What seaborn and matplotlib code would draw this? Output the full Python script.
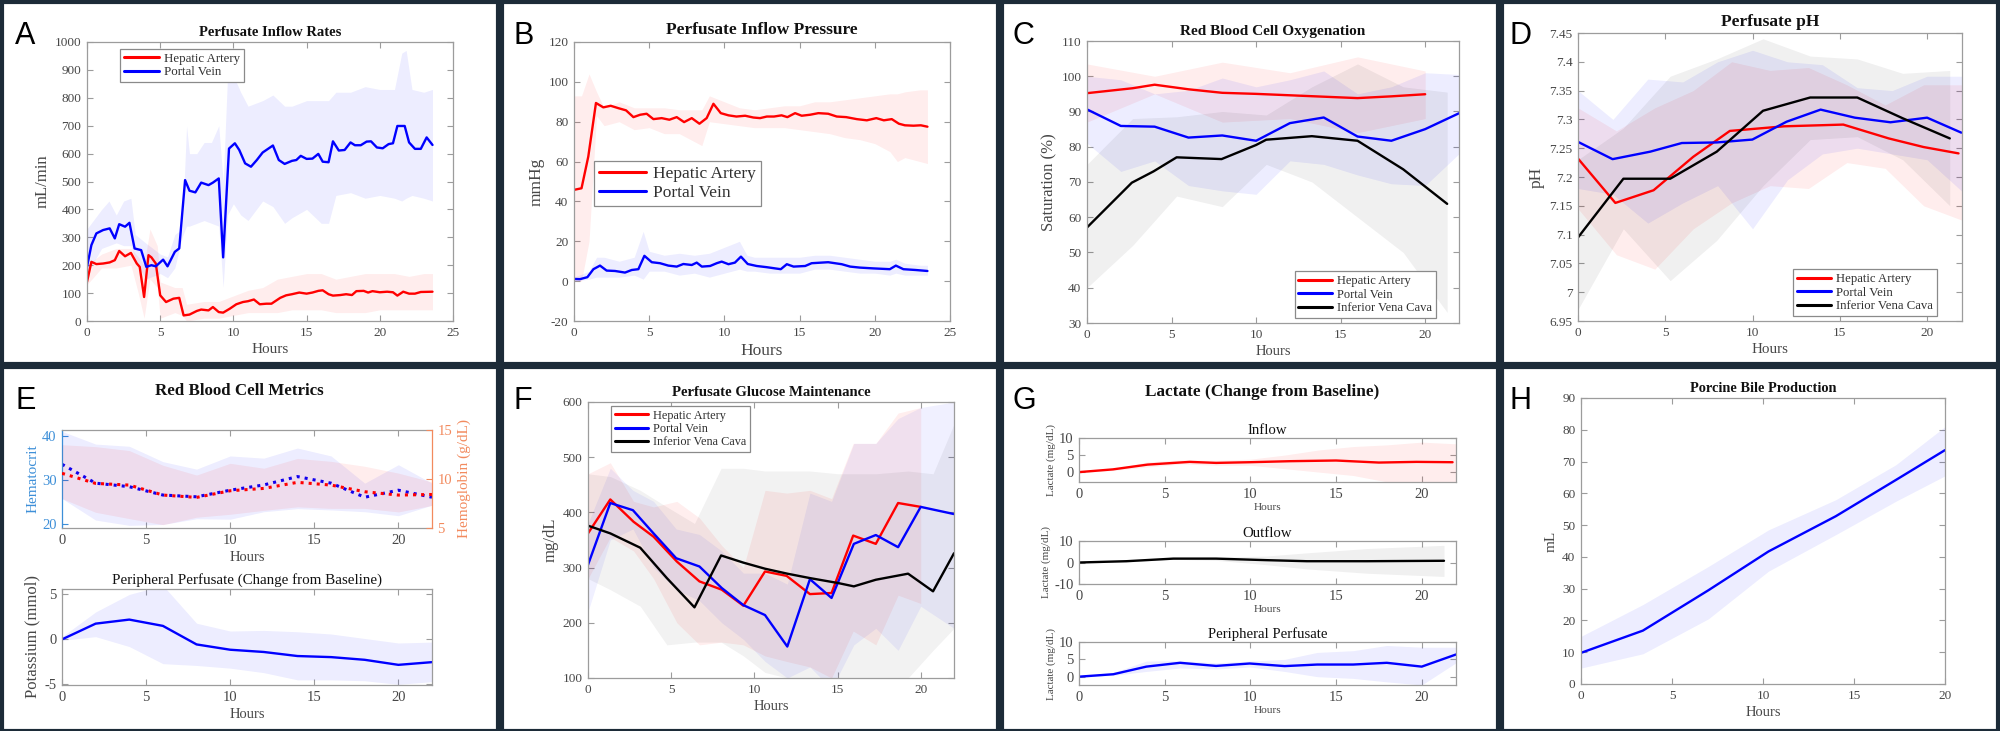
import numpy as np
import pandas as pd
import matplotlib
matplotlib.use("Agg")
import matplotlib.pyplot as plt
import seaborn as sns
from matplotlib.patches import Rectangle
from matplotlib.ticker import FuncFormatter

# ======================= DATA =======================
# ---- Panel A : Perfusate Inflow Rates (mL/min)
a_pv_t = [0,0.3,0.64,1.1,1.55,1.9,2.2,2.6,2.9,3.25,3.7,4.05,4.4,4.7,5.2,5.5,6.0,6.3,6.7,7.0,7.4,7.8,8.3,8.6,9.0,9.3,9.7,10.1,10.4,10.8,11.2,11.6,12.0,12.7,13.1,13.5,14.0,14.3,14.6,15.0,15.4,15.8,16.1,16.5,16.8,17.2,17.6,18.0,18.3,18.7,19.1,19.4,19.8,20.2,20.6,20.9,21.2,21.7,22.0,22.4,22.8,23.2,23.6]
a_pv = [194,272,314,326,332,296,347,338,352,260,254,194,200,196,220,196,248,260,505,467,461,496,487,496,511,228,618,637,613,565,553,577,604,629,577,563,574,577,592,581,582,599,571,569,644,611,613,640,630,630,643,644,622,619,634,637,699,699,640,617,617,658,631]
a_pv_bt = [0,1,1.5,2,2.5,3,3.3,4,5,5.5,6,6.5,6.8,7,7.5,8,8.5,9,9.3,9.6,10,10.5,11,12,12.7,13.5,14,15,16,16.5,17,18,19,20,21,21.5,21.8,22.2,23,23.6]
a_pv_hi = [330,400,430,380,430,440,310,280,240,230,310,330,700,600,600,640,640,700,500,880,880,820,770,790,810,770,770,790,790,790,820,820,840,830,830,960,970,830,820,830]
a_pv_lo = [170,260,270,280,270,270,220,150,170,155,190,300,340,340,350,360,350,340,120,380,420,380,360,430,410,350,370,400,350,350,450,460,440,450,440,430,440,450,440,430]
a_ha_t = [0,0.3,0.64,1.1,1.55,1.9,2.2,2.6,3.0,3.4,3.6,3.9,4.2,4.4,4.7,5.0,5.4,5.9,6.3,6.6,7.0,7.5,7.8,8.3,8.6,9.0,9.3,9.75,10.2,10.65,11.0,11.4,11.8,12.25,12.6,13.2,13.6,14.0,14.5,15.0,15.4,15.8,16.1,16.5,16.8,17.3,17.7,18.1,18.4,18.9,19.2,19.5,20.0,20.5,20.9,21.2,21.6,22.0,22.4,22.8,23.6]
a_ha = [140,212,204,206,210,218,251,232,244,206,194,86,236,228,206,92,68,80,83,20,23,36,41,38,50,32,30,44,60,68,71,77,60,62,62,83,92,96,102,98,102,108,110,96,91,93,96,93,107,108,102,107,103,105,103,91,105,98,98,104,105]
a_ha_bt = [0,1,2,3,3.5,3.9,4.3,4.8,5,6,6.5,6.8,8,9,10,11,12,13,14,15,16,17,18,19,20,21,22,23,23.6]
a_ha_hi = [200,240,260,260,230,200,330,270,140,120,120,60,70,70,90,110,120,150,160,170,170,150,160,170,170,170,160,170,170]
a_ha_lo = [130,190,190,200,100,10,150,120,10,30,20,0,10,10,20,30,30,30,40,40,40,30,30,30,40,40,40,40,40]

# ---- Panel B : Perfusate Inflow Pressure (mmHg)
b_ha_t = [0,0.5,0.95,1.46,1.95,2.44,2.95,3.46,3.95,4.4,4.83,5.28,5.83,6.34,6.83,7.32,7.83,8.34,8.82,9.27,9.76,10.27,10.8,11.38,11.93,12.37,12.82,13.3,13.8,14.19,14.7,15.14,15.7,16.25,16.9,17.47,18.1,18.8,19.47,20.1,20.6,21.13,21.6,22.0,22.57,23.06,23.5]
b_ha = [45.8,46.6,62.5,89.4,87.2,88,86.8,85.7,82.3,83.5,84,81.3,81.8,81,82.3,79.8,81.8,79,81.8,89,84.3,83.2,82.6,83,82.1,81.8,82.6,82.6,83.2,82.3,84.3,83,83.5,84.3,84,82.6,82.3,81.3,80.7,81.8,80.7,81.3,79,78.2,78,78.2,77.5]
b_ha_bt = [0,0.5,1,1.5,2,3,4,5,6,7,8,8.5,9,10,11,12,13,14,15,16,17,18,19,20,21,21.5,22,23,23.5]
b_ha_hi = [93,93,104,95,87,90,87,87,87,86,86,86,93,90,87,86,87,88,88,90,90,91,92,93,94,94,95,96,96]
b_ha_lo = [0,0,20,83,78,80,76,77,74,74,70,68,80,79,78,77,77,77,76,75,74,72,71,69,65,60,62,60,59]
b_pv_t = [0,0.4,0.89,1.29,1.73,2.17,2.73,3.39,3.84,4.28,4.68,5.17,5.72,6.27,6.83,7.27,7.83,8.16,8.5,9.05,9.49,9.82,10.27,10.7,11.1,11.55,12.15,12.82,13.37,13.75,14.15,14.6,15.37,15.8,16.9,17.8,18.36,19.0,19.9,21.0,21.4,21.9,22.7,23.5]
b_pv = [1.1,1,2,6,7.8,5.3,5.1,4.3,5.6,6,12.7,9.5,9,7.8,7.3,8.6,8.1,9.3,7.3,7.6,9,9.8,8.5,9.3,12.3,8.6,7.6,7,6.4,6,8.5,7.3,7.6,9,9.5,8.5,7.3,6.8,6.4,6,7.8,6,5.6,5.1]
b_pv_bt = [0,1,1.5,2,3,4,4.6,5,6,7,8,9,10,11,11.5,12,13,14,15,16,17,18,19,20,21,21.4,22,23,23.5]
b_pv_hi = [2,5,12,12,10,12,25,15,13,14,13,14,17,20,13,12,12,12,12,13,13,12,11,10,10,11,9,8,8]
b_pv_lo = [0,1,2,2,2,3,1,5,5,3,4,2,4,6,5,5,4,4,4,6,6,5,4,4,3,4,3,3,3]

# ---- Panel C : Red Blood Cell Oxygenation (%)
c_ha_t = [0,2.7,4,6,8,10,12,14,16,18,20]
c_ha = [95.2,96.6,97.6,96.3,95.3,95,94.6,94.2,93.8,94.3,94.9]
c_ha_bt = [0,4,8,12,16,20]
c_ha_hi = [103.5,100,104,101,105.5,101.5]
c_ha_lo = [87,95,87,88,84,88]
c_pv_t = [0,2,4,6,8,10,12,14,16,18,20,22]
c_pv = [90.6,85.9,85.7,82.6,83.2,81.7,86.7,88.3,82.9,81.7,85,89.5]
c_pv_hi = [100,99,95,96,99.5,97,99,101.5,95,97,101,100.5]
c_pv_lo = [81,73,76,69,67.5,66.5,76,75,72,69.5,69,78]
c_ivc_t = [0,2.65,3.93,5.3,7.96,10,10.6,13.3,16,18.7,21.3]
c_ivc = [57.1,69.8,73,77,76.5,80.5,82,83,81.7,73.6,63.8]
c_ivc_bt = [0,2.7,5.3,8,10.6,13.3,16,18.7,21.3]
c_ivc_hi = [75,88,88.5,90,89,97,103.5,97,95.5]
c_ivc_lo = [40,52,66,63,75,70,60,50,33]

# ---- Panel D : Perfusate pH
d_ha_t = [0,2.14,4.33,6.6,8.7,11.8,15.2,17.8,19.8,21.8]
d_ha = [7.232,7.155,7.177,7.235,7.28,7.288,7.291,7.267,7.252,7.241]
d_ha_bt = [0,2.2,4.4,6.6,8.8,11,13.2,15.4,17.6,19.8,22]
d_ha_hi = [7.32,7.28,7.32,7.35,7.40,7.385,7.39,7.36,7.325,7.36,7.36]
d_ha_lo = [7.145,7.065,7.04,7.11,7.155,7.185,7.18,7.225,7.215,7.15,7.125]
d_pv_t = [0,1.98,4.14,5.95,7.95,9.99,11.95,13.9,15.86,17.9,20,21.96]
d_pv = [7.261,7.231,7.244,7.259,7.26,7.265,7.296,7.317,7.303,7.295,7.303,7.277]
d_pv_bt = [0,2,4,6,8,10,12,14,16,18,20,22]
d_pv_hi = [7.35,7.30,7.37,7.365,7.40,7.42,7.40,7.395,7.355,7.35,7.375,7.375]
d_pv_lo = [7.18,7.17,7.12,7.155,7.185,7.11,7.195,7.24,7.25,7.24,7.23,7.175]
d_ivc_t = [0,2.6,5.28,7.95,10.6,13.3,16,18.6,21.3]
d_ivc = [7.095,7.197,7.197,7.244,7.315,7.338,7.338,7.302,7.267]
d_ivc_hi = [7.23,7.285,7.375,7.405,7.44,7.41,7.405,7.38,7.385]
d_ivc_lo = [6.97,7.11,7.02,7.09,7.185,7.265,7.27,7.23,7.15]

# ---- Panel E : Red Blood Cell Metrics
e_t = [0,2,4,6,8,10,12,14,16,18,20,22]
e_hct = [33.5,29.2,28.4,26.5,26.1,27.6,28.8,30.7,29.2,26,27.6,26]
e_hct_hi = [41,38.1,37.6,34.1,32.4,35.4,34.9,37.2,35.4,29.2,33.4,29.2]
e_hct_lo = [25.7,20.8,19.6,19.8,21.1,21,22.7,23.4,23.1,22.7,21.8,24.2]
e_hb = [10.58,9.55,9.38,8.36,8.12,8.8,9.04,9.66,9.38,8.7,8.36,8.42]
e_hb_hi = [13.5,13.3,12.9,11.4,10.4,11.6,11.1,12.1,11.8,11.3,10.6,9.7]
e_hb_lo = [8.0,6.6,5.96,5.34,6.1,6.4,6.8,7.16,7,7,6.64,7.3]
e_k = [0,1.75,2.2,1.5,-0.56,-1.15,-1.4,-1.85,-1.97,-2.27,-2.83,-2.53]
e_k_hi = [0.3,3.05,5,6,1.8,0.93,1,0.85,0.6,0.1,-0.4,-0.3]
e_k_lo = [-0.1,0.3,-0.8,-2.7,-2.9,-3.2,-3.7,-4.5,-4.5,-4.6,-5,-4.7]

# ---- Panel F : Perfusate Glucose Maintenance (mg/dL)
f_ha_t = [0,1.34,2.74,3.94,5.34,6.7,8.04,9.34,10.64,11.94,13.34,14.64,15.94,17.3,18.64,20]
f_ha = [362,423.5,383,356,311,275,260,231,293,285,252,254,358,343,417,410]
f_ha_hi = [470,490,420,410,420,390,340,300,440,435,440,425,525,525,580,590]
f_ha_lo = [280,355,330,280,200,160,165,160,140,130,120,100,185,160,250,235]
f_pv_t = [0,1.34,2.7,3.94,5.3,6.7,8.04,9.34,10.64,11.98,13.34,14.64,15.98,17.3,18.64,20,22]
f_pv = [305,417,404,362,317,302,263,232,214,157,279,245,343,359,337,410,397]
f_pv_hi = [380,480,440,420,370,360,330,290,290,270,435,420,525,525,570,590,600]
f_pv_lo = [220,350,370,300,260,240,200,170,130,100,120,80,160,190,150,230,190]
f_ivc_t = [0,1.34,3.14,4.74,6.4,8,9.34,10.64,11.98,13.34,15.04,15.98,17.3,19.24,20.74,22]
f_ivc = [376,362,336,281,228,322,309,298,289,281,272,266,278,289,257,326]
f_ivc_hi = [470,465,440,410,380,480,480,475,475,475,470,470,470,475,470,560]
f_ivc_lo = [280,260,230,160,165,165,140,110,100,90,80,70,80,100,150,190]

# ---- Panel G : Lactate (Change from Baseline) (mg/dL)
g_in_t = [0,1.98,4.0,6.46,8,9.96,12.3,15,17.5,19.7,21.8]
g_in = [0,0.8,2.2,3.0,2.7,2.9,3.2,3.4,2.8,3.0,2.9]
g_in_bt = [0,2,4,6,8,10,12,14,16,18,20,22]
g_in_hi = [0.2,1,3,3.6,3.5,3.8,5,6.5,7.5,8,8.8,8.3]
g_in_lo = [-0.2,0.5,1.5,2.4,2,2,1,0,-1,-2.9,-2.9,-2.9]
g_out_t = [0,2.76,5.5,8,10.9,13.3,16.8,21.3]
g_out = [0,0.6,1.8,1.8,1.1,0.6,0.6,0.8]
g_out_hi = [0.2,1,2.5,2.5,3,4.5,6.5,8]
g_out_lo = [-0.2,0.2,1.5,1,-1,-3,-5,-6.5]
g_pp_t = [0,2,3.93,5.9,8,9.96,12,13.9,16,17.96,20,22]
g_pp = [0,0.7,2.9,4,3.1,3.8,3.05,3.5,3.5,4,2.9,6.4]
g_pp_hi = [0.2,1.2,4.5,4.6,4,4.5,5,7,7.5,9,8.5,8.5]
g_pp_lo = [-0.2,0.4,1.5,2.5,2.2,2.8,1.5,0,-0.5,-1.5,-2.4,4]

# ---- Panel H : Porcine Bile Production (mL)
h_t = [0,3.4,7,10.3,14,17.3,20]
h_bile = [9.8,16.8,29.5,41.7,52.8,64.2,73.6]
h_bile_hi = [15,25,37,48.5,58,69,81]
h_bile_lo = [5,9.5,20.5,35.5,47,57.5,65.5]

series_labels = ["Hepatic Artery", "Portal Vein", "Inferior Vena Cava"]

# ======================= STYLE =======================
sns.set_style("ticks")
plt.rcParams['font.family'] = ['Liberation Serif', 'DejaVu Serif']
plt.rcParams['axes.unicode_minus'] = False

RED, BLUE, BLACK = '#ff0000', '#0000ff', '#000000'
SP = '#9c9c9c'
TX = '#474747'
FRAME = '#1c2b38'
ALPHA = 0.07
FMT = FuncFormatter(lambda v, p: f"{round(v, 4):g}")

W, H = 2000, 731
fig = plt.figure(figsize=(20, 7.31), dpi=100)
fig.patch.set_facecolor('white')


def add_ax(l, t, r, b):
    return fig.add_axes([l / W, 1 - b / H, (r - l) / W, (b - t) / H])


def style(ax, xlim, ylim, xt, yt, fs=9.5):
    ax.set_xlim(*xlim)
    ax.set_ylim(*ylim)
    ax.set_xticks(xt)
    ax.set_yticks(yt)
    ax.xaxis.set_major_formatter(FMT)
    ax.yaxis.set_major_formatter(FMT)
    ax.tick_params(which='both', direction='in', top=True, right=True, length=4,
                   width=0.8, color=SP, labelcolor=TX, labelsize=fs, pad=4)
    for s in ax.spines.values():
        s.set_visible(True)
        s.set_color(SP)
        s.set_linewidth(0.9)


def band(ax, t, lo, hi, color, alpha=ALPHA):
    ax.fill_between(t, lo, hi, color=color, alpha=alpha, lw=0)


def line(ax, t, y, color, label=None, lw=1.7, ls='-'):
    sns.lineplot(x=t, y=y, color=color, label=label, ax=ax, lw=lw, ls=ls,
                 estimator=None, sort=False, legend=bool(label))


def leg(ax, loc, anchor, fs):
    lg = ax.legend(loc=loc, bbox_to_anchor=anchor, borderaxespad=0, fontsize=fs,
                   frameon=True, fancybox=False, edgecolor='#8a8a8a', framealpha=1,
                   borderpad=0.3, labelspacing=0.12, handlelength=2.7, handletextpad=0.4)
    lg.get_frame().set_linewidth(0.9)
    for t in lg.get_texts():
        t.set_color('#303030')
    for h in lg.get_lines():
        h.set_linewidth(2.2)


def labels(ax, xl, yl, title, xfs=10.5, yfs=12, tfs=10.5, tpad=4, bold=True):
    ax.set_xlabel(xl, fontsize=xfs, color=TX, labelpad=3)
    ax.set_ylabel(yl, fontsize=yfs, color=TX, labelpad=3)
    if title:
        ax.set_title(title, fontsize=tfs, fontweight='bold' if bold else 'normal',
                     color='#111111', pad=tpad)


# ======================= PANEL A =======================
ax = add_ax(87, 42, 453, 321)
band(ax, a_pv_bt, a_pv_lo, a_pv_hi, BLUE)
band(ax, a_ha_bt, a_ha_lo, a_ha_hi, RED)
line(ax, a_ha_t, a_ha, RED, series_labels[0])
line(ax, a_pv_t, a_pv, BLUE, series_labels[1])
style(ax, (0, 25), (0, 1000), range(0, 26, 5), range(0, 1001, 100))
labels(ax, "Hours", "mL/min", "Perfusate Inflow Rates", xfs=11, yfs=12, tfs=10.5)
leg(ax, 'upper left', (0.09, 0.975), 9.3)

# ======================= PANEL B =======================
ax = add_ax(574, 42, 950, 321)
band(ax, b_ha_bt, b_ha_lo, b_ha_hi, RED)
band(ax, b_pv_bt, b_pv_lo, b_pv_hi, BLUE)
line(ax, b_ha_t, b_ha, RED, series_labels[0])
line(ax, b_pv_t, b_pv, BLUE, series_labels[1])
style(ax, (0, 25), (-20, 120), range(0, 26, 5), range(-20, 121, 20))
labels(ax, "Hours", "mmHg", "Perfusate Inflow Pressure", xfs=12.5, yfs=12.5, tfs=12.5, tpad=6)
leg(ax, 'upper left', (0.053, 0.573), 12.5)

# ======================= PANEL C =======================
ax = add_ax(1087, 41, 1459, 323)
band(ax, c_ha_bt, c_ha_lo, c_ha_hi, RED)
band(ax, c_pv_t, c_pv_lo, c_pv_hi, BLUE)
band(ax, c_ivc_bt, c_ivc_lo, c_ivc_hi, BLACK, 0.06)
line(ax, c_ha_t, c_ha, RED, series_labels[0])
line(ax, c_pv_t, c_pv, BLUE, series_labels[1])
line(ax, c_ivc_t, c_ivc, BLACK, series_labels[2])
style(ax, (0, 22), (30, 110), range(0, 21, 5), range(30, 111, 10))
labels(ax, "Hours", "Saturation (%)", "Red Blood Cell Oxygenation", xfs=10.5, yfs=12, tfs=11)
leg(ax, 'lower right', (0.938, 0.018), 9)

# ======================= PANEL D =======================
ax = add_ax(1578, 33, 1962, 321)
band(ax, d_ha_bt, d_ha_lo, d_ha_hi, RED)
band(ax, d_pv_bt, d_pv_lo, d_pv_hi, BLUE)
band(ax, d_ivc_t, d_ivc_lo, d_ivc_hi, BLACK, 0.06)
line(ax, d_ha_t, d_ha, RED, series_labels[0])
line(ax, d_pv_t, d_pv, BLUE, series_labels[1])
line(ax, d_ivc_t, d_ivc, BLACK, series_labels[2])
style(ax, (0, 22), (6.95, 7.45), range(0, 21, 5), np.arange(6.95, 7.451, 0.05))
labels(ax, "Hours", "pH", "Perfusate pH", xfs=10.8, yfs=12.5, tfs=12.5, tpad=5)
leg(ax, 'lower right', (0.935, 0.017), 9.2)

# ======================= PANEL E =======================
HCT_C, HB_C = '#3d8fd8', '#f28a5e'
ax = add_ax(62, 430, 432, 528)
band(ax, e_t, e_hct_lo, e_hct_hi, BLUE)
line(ax, e_t, e_hct, BLUE, lw=2.2, ls=':')
style(ax, (0, 22), (19, 41.3), range(0, 21, 5), [20, 30, 40], fs=10.5)
ax.tick_params(axis='y', right=False, labelcolor=HCT_C, color=HCT_C)
ax.spines['left'].set_color(HCT_C)
ax.spines['right'].set_visible(False)
ax.set_xlabel("Hours", fontsize=10.5, color=TX, labelpad=3)
ax.set_ylabel("Hematocrit", fontsize=11, color=HCT_C, labelpad=2)
ax2 = ax.twinx()
band(ax2, e_t, e_hb_lo, e_hb_hi, RED)
line(ax2, e_t, e_hb, RED, lw=2.2, ls=':')
ax2.set_ylim(5, 15)
ax2.set_yticks([5, 10, 15])
ax2.yaxis.set_major_formatter(FMT)
ax2.tick_params(axis='y', direction='in', length=4, width=0.8, color=HB_C,
                labelcolor=HB_C, labelsize=10.5, pad=4)
for k in ['left', 'top', 'bottom']:
    ax2.spines[k].set_visible(False)
ax2.spines['right'].set_color(HB_C)
ax2.spines['right'].set_linewidth(0.9)
ax2.set_ylabel("Hemoglobin (g/dL)", fontsize=11, color=HB_C, labelpad=4)
fig.text(239 / W, 1 - 391 / H, "Red Blood Cell Metrics", ha='center', va='center',
         fontsize=12.2, fontweight='bold', color='#111111')

ax = add_ax(62, 589, 432, 685)
band(ax, e_t, e_k_lo, e_k_hi, BLUE)
line(ax, e_t, e_k, BLUE, lw=1.7)
style(ax, (0, 22), (-5.07, 5.6), range(0, 21, 5), [-5, 0, 5], fs=10.5)
labels(ax, "Hours", "Potassium (mmol)", "Peripheral Perfusate (Change from Baseline)",
       xfs=10.5, yfs=12, tfs=10.8, tpad=4, bold=False)

# ======================= PANEL F =======================
ax = add_ax(588, 402, 954, 678)
band(ax, f_ha_t, f_ha_lo, f_ha_hi, RED, 0.065)
band(ax, f_pv_t, f_pv_lo, f_pv_hi, BLUE, 0.06)
band(ax, f_ivc_t, f_ivc_lo, f_ivc_hi, BLACK, 0.05)
line(ax, f_ha_t, f_ha, RED, series_labels[0])
line(ax, f_pv_t, f_pv, BLUE, series_labels[1])
line(ax, f_ivc_t, f_ivc, BLACK, series_labels[2])
style(ax, (0, 22), (100, 600), range(0, 21, 5), range(100, 601, 100))
labels(ax, "Hours", "mg/dL", "Perfusate Glucose Maintenance", xfs=10.5, yfs=12, tfs=10.6)
leg(ax, 'upper left', (0.063, 0.986), 8.8)

# ======================= PANEL G =======================
g_specs = [
    (438, 482, g_in_bt, g_in_lo, g_in_hi, g_in_t, g_in, RED, (-2.9, 10), [0, 5, 10], "Inflow"),
    (541, 584, g_out_t, g_out_lo, g_out_hi, g_out_t, g_out, BLACK, (-10, 10), [-10, 0, 10], "Outflow"),
    (642, 685, g_pp_t, g_pp_lo, g_pp_hi, g_pp_t, g_pp, BLUE, (-2.4, 10), [0, 5, 10], "Peripheral Perfusate"),
]
for (top, bot, bt, lo, hi, lt, lv, col, yl, yt, ttl) in g_specs:
    ax = add_ax(1079, top, 1456, bot)
    band(ax, bt, lo, hi, col, 0.06 if col == BLACK else ALPHA)
    line(ax, lt, lv, col, lw=1.7)
    style(ax, (0, 22), yl, range(0, 21, 5), yt, fs=10.5)
    ax.set_xlabel("Hours", fontsize=8.2, color=TX, labelpad=2)
    ax.set_ylabel("Lactate (mg/dL)", fontsize=8, color=TX, labelpad=2)
    ax.set_title(ttl, fontsize=10.6, color='#111111', pad=3)
fig.text(1262 / W, 1 - 392 / H, "Lactate (Change from Baseline)", ha='center', va='center',
         fontsize=12.4, fontweight='bold', color='#111111')

# ======================= PANEL H =======================
ax = add_ax(1581, 398, 1945, 684)
band(ax, h_t, h_bile_lo, h_bile_hi, BLUE)
line(ax, h_t, h_bile, BLUE, lw=1.7)
style(ax, (0, 20), (0, 90), range(0, 21, 5), range(0, 91, 10))
labels(ax, "Hours", "mL", "Porcine Bile Production", xfs=10.5, yfs=11, tfs=10.4)

# ======================= FRAMES & LETTERS =======================
letters = "ABCDEFGH"
letter_pos = [(15, 36), (513, 36), (1012, 36), (1510, 36),
              (15, 401), (513, 401), (1012, 401), (1510, 401)]
for i, (lx, ly) in enumerate(letter_pos):
    fig.text(lx / W, 1 - ly / H, letters[i], fontsize=22, family='Liberation Sans',
             ha='left', va='center', color='black')
for row in range(2):
    for col in range(4):
        x0 = 500 * col + 2
        y0 = 365 * row + 2
        w = 496
        h = 362 if row == 0 else 364
        fig.patches.append(Rectangle((x0 / W, 1 - (y0 + h) / H), w / W, h / H,
                                     transform=fig.transFigure, fill=False,
                                     edgecolor=FRAME, linewidth=3.0))

fig.savefig("out.png", dpi=100, facecolor='white')
